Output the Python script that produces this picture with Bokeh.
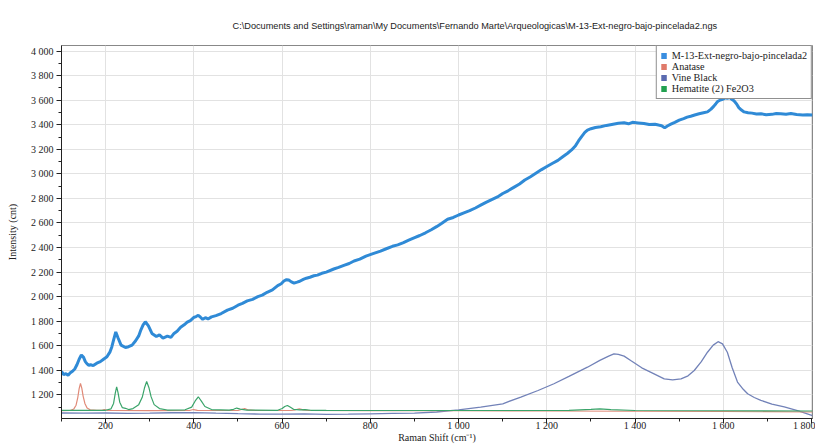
from bokeh.plotting import figure
from bokeh.models import Range1d, FixedTicker, Legend, LegendItem, Title
from bokeh.embed import file_html
from bokeh.resources import INLINE

title_text = r"C:\Documents and Settings\raman\My Documents\Fernando Marte\Arqueologicas\M-13-Ext-negro-bajo-pincelada2.ngs"
x_title = "Raman Shift (cm\u207b\u00b9)"
y_title = "Intensity (cnt)"

series_names = ["M-13-Ext-negro-bajo-pincelada2", "Anatase", "Vine Black", "Hematite (2) Fe2O3"]

# main sample spectrum
sample_x = [100, 105, 110, 115, 120, 125, 130, 135, 140, 145, 150, 154, 158, 162, 166, 172, 180, 188, 196, 203,
            210, 214, 218, 223, 228, 235, 245, 252, 260, 268, 275, 280, 285, 290, 297, 305, 315, 322, 330, 340,
            348, 355, 362, 370, 378, 385, 392, 400, 405, 410, 415, 420, 426, 432, 440, 450, 462, 476, 488, 500,
            510, 521, 533, 545, 555, 566, 578, 590, 598, 604, 610, 615, 621, 627, 634, 640, 648, 655, 663, 672,
            680, 690, 700, 717, 728, 740, 752, 763, 776, 790, 806, 823, 836, 850, 862, 875, 887, 899, 912, 925,
            938, 950, 962, 975, 988, 1000, 1012, 1025, 1038, 1050, 1062, 1075, 1088, 1100, 1112, 1125, 1138, 1150,
            1162, 1175, 1188, 1200, 1212, 1225, 1236, 1247, 1256, 1265, 1272, 1280, 1286, 1292, 1300, 1310, 1322,
            1335, 1350, 1362, 1375, 1385, 1394, 1407, 1420, 1432, 1445, 1453, 1460, 1467, 1473, 1481, 1490, 1500,
            1510, 1518, 1526, 1535, 1545, 1555, 1564, 1572, 1578, 1583, 1587, 1593, 1600, 1605, 1609, 1614, 1618,
            1624, 1630, 1635, 1641, 1647, 1656, 1665, 1675, 1685, 1697, 1710, 1720, 1730, 1742, 1753, 1766, 1780,
            1790, 1802]
sample_y = [1390, 1365, 1372, 1360, 1380, 1392, 1410, 1445, 1490, 1525, 1505, 1470, 1452, 1440, 1445, 1438, 1458, 1470, 1492, 1510,
            1550, 1590, 1645, 1712, 1665, 1605, 1585, 1592, 1605, 1640, 1680, 1730, 1770, 1795, 1762, 1700, 1675, 1688, 1662, 1678,
            1668, 1700, 1718, 1750, 1770, 1792, 1805, 1830, 1838, 1848, 1832, 1815, 1828, 1818, 1835, 1845, 1862, 1890, 1905, 1930,
            1945, 1965, 1978, 2000, 2012, 2035, 2055, 2090, 2105, 2127, 2138, 2135, 2120, 2110, 2118, 2125, 2140, 2150, 2158, 2170,
            2175, 2190, 2200, 2225, 2238, 2255, 2270, 2290, 2305, 2330, 2350, 2371, 2390, 2410, 2422, 2440, 2460, 2479, 2498, 2520,
            2545, 2570, 2598, 2630, 2645, 2665, 2682, 2700, 2722, 2745, 2768, 2790, 2812, 2840, 2862, 2890, 2918, 2950,
            2975, 3005, 3035, 3060, 3085, 3110, 3140, 3168, 3195, 3230, 3270, 3310, 3338, 3357, 3368, 3378, 3384,
            3395, 3405, 3412, 3416, 3408, 3420, 3415, 3410, 3402, 3405, 3398, 3392, 3375, 3390, 3405, 3420, 3438,
            3450, 3462, 3470, 3480, 3490, 3498, 3505, 3528, 3550, 3572, 3590, 3602, 3610, 3622, 3615, 3625, 3610,
            3595, 3570, 3540, 3520, 3505, 3498, 3495, 3488, 3490, 3482, 3485, 3492, 3490, 3486, 3492, 3484, 3480,
            3482, 3479]

# Anatase reference
anatase_x = [100, 120, 128, 133, 137, 140, 143, 146, 149, 153, 158, 165, 180, 192, 197, 203, 215, 300, 390, 399, 408,
             420, 500, 508, 515, 522, 540, 620, 630, 639, 648, 660, 800, 1000, 1200, 1400, 1600, 1802]
anatase_y = [1070, 1072, 1085, 1115, 1180, 1250, 1292, 1255, 1190, 1130, 1092, 1078, 1073, 1074, 1080, 1074, 1072, 1071, 1072, 1080, 1073,
             1072, 1072, 1080, 1088, 1078, 1072, 1072, 1078, 1085, 1077, 1072, 1071, 1070, 1068, 1066, 1064, 1060]

# Vine Black reference
vine_x = [100, 150, 200, 250, 300, 350, 400, 450, 500, 550, 600, 650, 700, 750, 800, 850, 900, 950, 1000, 1050,
          1100, 1141, 1180, 1216, 1250, 1292, 1320, 1340, 1352, 1362, 1375, 1390, 1415, 1443, 1466, 1485, 1504, 1520,
          1534, 1550, 1564, 1577, 1588, 1598, 1609, 1620, 1632, 1645, 1655, 1670, 1685, 1710, 1738, 1770, 1802]
vine_y = [1052, 1050, 1052, 1049, 1050, 1054, 1055, 1050, 1046, 1043, 1042, 1045, 1040, 1042, 1045, 1048, 1050, 1060, 1078, 1100,
          1127, 1182, 1235, 1290, 1350, 1425, 1480, 1515, 1533, 1530, 1515, 1479, 1420, 1371, 1330, 1322, 1330, 1355,
          1398, 1470, 1547, 1605, 1633, 1615, 1547, 1420, 1304, 1245, 1209, 1178, 1155, 1125, 1101, 1070, 1030]

# Hematite reference
hem_x = [100, 150, 200, 212, 218, 222, 225, 228, 232, 238, 245, 252, 262, 275, 283, 288, 293, 298, 303, 310, 322,
         340, 380, 395, 403, 410, 417, 425, 440, 480, 490, 497, 505, 520, 590, 600, 606, 612, 618, 626, 640, 652,
         665, 700, 900, 1100, 1250, 1300, 1320, 1345, 1400, 1600, 1802]
hem_y = [1073, 1073, 1074, 1085, 1130, 1215, 1265, 1220, 1140, 1095, 1090, 1080, 1088, 1120, 1180, 1255, 1308, 1260, 1185, 1120, 1088,
         1076, 1078, 1100, 1150, 1184, 1148, 1105, 1080, 1075, 1082, 1092, 1084, 1075, 1074, 1088, 1105, 1113, 1100, 1082, 1078, 1080,
         1074, 1073, 1072, 1072, 1074, 1082, 1086, 1080, 1072, 1070, 1068]

x_ticks = [200, 400, 600, 800, 1000, 1200, 1400, 1600, 1800]
x_tick_labels = ["200", "400", "600", "800", "1 000", "1 200", "1 400", "1 600", "1 800"]
y_ticks = [1200, 1400, 1600, 1800, 2000, 2200, 2400, 2600, 2800, 3000, 3200, 3400, 3600, 3800, 4000]
y_tick_labels = ["1 200", "1 400", "1 600", "1 800", "2 000", "2 200", "2 400", "2 600", "2 800", "3 000",
                 "3 200", "3 400", "3 600", "3 800", "4 000"]
x_minor = list(range(100, 1900, 100))
y_minor = list(range(1100, 4100, 100))

colors_line = ["#2f8ad6", "#e08a78", "#7282b8", "#3aa46a"]
colors_legend = ["#3a8ee0", "#e07a6a", "#5a6ab0", "#22a050"]

SERIF = "Liberation Serif"

p = figure(width=815, height=446, output_backend="svg", toolbar_location=None,
           x_range=Range1d(100, 1802), y_range=Range1d(1007, 4046),
           min_border_left=61, min_border_right=3, min_border_top=45, min_border_bottom=28)
p.background_fill_color = "white"
p.border_fill_color = "white"
p.outline_line_color = "#888888"

t = Title(text=title_text, align="left", offset=171, vertical_align="top", standoff=25,
          text_font="Liberation Sans", text_font_size="9.2px", text_font_style="normal",
          text_color="#222222")
p.add_layout(t, "above")

p.xaxis.ticker = FixedTicker(ticks=x_ticks, minor_ticks=x_minor)
p.yaxis.ticker = FixedTicker(ticks=y_ticks, minor_ticks=y_minor)
p.xaxis.major_label_overrides = dict(zip(x_ticks, x_tick_labels))
p.yaxis.major_label_overrides = dict(zip(y_ticks, y_tick_labels))
for ax in (p.xaxis, p.yaxis):
    ax.major_label_text_font = SERIF
    ax.major_label_text_font_size = "10px"
    ax.major_label_text_color = "#222222"
    ax.major_label_text_line_height = 1.0
    ax.axis_label_text_font = SERIF
    ax.axis_label_text_font_size = "10px"
    ax.axis_label_text_font_style = "normal"
    ax.axis_label_text_color = "#222222"
    ax.axis_label_text_line_height = 1.0
    ax.major_tick_out = 5
    ax.major_tick_in = 0
    ax.minor_tick_out = 3
    ax.minor_tick_in = 0
    ax.axis_line_color = "#222222"
    ax.major_tick_line_color = "#222222"
    ax.minor_tick_line_color = "#222222"
p.xaxis.axis_label = x_title
p.yaxis.axis_label = y_title
p.xaxis.major_label_standoff = -4
p.xaxis.axis_label_standoff = -2
p.yaxis.major_label_standoff = 3
p.yaxis.axis_label_standoff = 10

p.xgrid.grid_line_color = "#e2e2e2"
p.ygrid.grid_line_color = "#e2e2e2"

p.line(vine_x, vine_y, line_color=colors_line[2], line_width=1.3)
p.line(anatase_x, anatase_y, line_color=colors_line[1], line_width=1.2)
p.line(hem_x, hem_y, line_color=colors_line[3], line_width=1.2)
p.line(sample_x, sample_y, line_color=colors_line[0], line_width=3)

items = []
for name, c in zip(series_names, colors_legend):
    # single off-range point: draws nothing in the plot, only the legend swatch
    r = p.line(x=[0], y=[0], line_color=c, line_width=6)
    items.append(LegendItem(label=name, renderers=[r]))

legend = Legend(items=items, location="top_right", margin=0, padding=4, spacing=-5,
                glyph_width=6, glyph_height=9, label_height=9, label_standoff=5,
                label_text_font=SERIF, label_text_font_size="10.2px", label_text_color="#222222",
                border_line_color="#222222", border_line_width=1, background_fill_alpha=1)
p.add_layout(legend)

open("out.html", "w").write(file_html(p, INLINE))
